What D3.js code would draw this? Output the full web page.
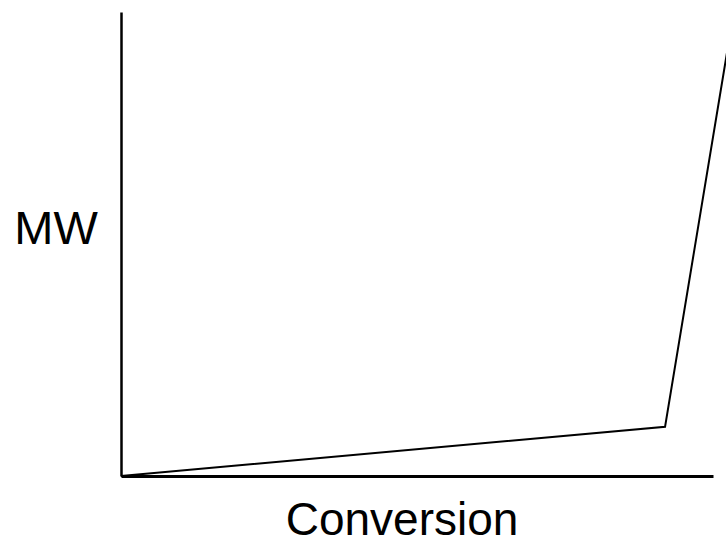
<!DOCTYPE html>
<html>
<head>
<meta charset="utf-8">
<script src="https://cdn.jsdelivr.net/npm/d3@7/dist/d3.min.js"></script>
<style>
  html, body { margin: 0; padding: 0; background: #fff; }
  svg { display: block; }
  text { font-family: "Liberation Sans", Arial, sans-serif; fill: #000; }
</style>
</head>
<body>
<script>
// Molecular weight vs. conversion (schematic, normalised units)
const conversion = [0, 0.919, 1.035];
const molWeight  = [0, 0.106, 1.0];
const xLabel = "Conversion";
const yLabel = "MW";

const W = 726, H = 541;
const svg = d3.select("body").append("svg")
  .attr("width", W).attr("height", H);

const x = d3.scaleLinear().domain([0, 1]).range([121, 713]);
const y = d3.scaleLinear().domain([0, 1]).range([476, 12]);

// axes without ticks, just the spines
svg.append("g")
  .attr("transform", `translate(0,${y(0)})`)
  .call(d3.axisBottom(x).tickValues([]).tickSizeOuter(0))
  .select(".domain").attr("stroke", "#000").attr("stroke-width", 3);

svg.append("g")
  .attr("transform", `translate(${x(0)},0)`)
  .call(d3.axisLeft(y).tickValues([]).tickSizeOuter(0))
  .select(".domain").attr("stroke", "#000").attr("stroke-width", 2.5);

const pts = conversion.map((c, i) => [c, molWeight[i]]);
svg.append("path")
  .datum(pts)
  .attr("fill", "none")
  .attr("stroke", "#000")
  .attr("stroke-width", 2)
  .attr("stroke-linejoin", "miter")
  .attr("d", d3.line().x(d => x(d[0])).y(d => y(d[1])));

// axis titles
svg.append("text")
  .attr("x", 402).attr("y", 535)
  .attr("text-anchor", "middle")
  .attr("font-size", 46)
  .text(xLabel);

svg.append("text")
  .attr("x", 56).attr("y", 244)
  .attr("text-anchor", "middle")
  .attr("font-size", 47)
  .text(yLabel);
</script>
</body>
</html>
